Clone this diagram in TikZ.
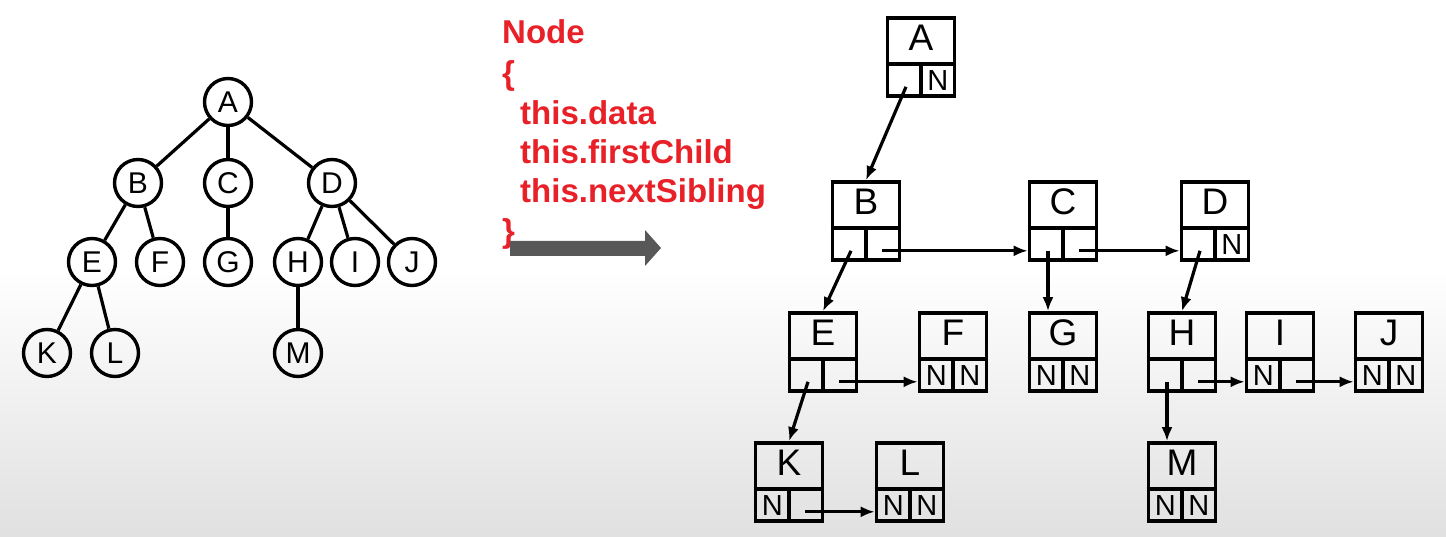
\documentclass[tikz,border=0pt]{standalone}
\usepackage{fontspec}
\setmainfont{Liberation Sans}
\usetikzlibrary{arrows.meta}
\definecolor{codered}{RGB}{232,32,40}
\definecolor{arrowgray}{RGB}{88,88,88}
\tikzset{circ/.style={circle,draw,line width=3.4pt,minimum size=47pt,inner sep=0pt,font=\fontsize{30}{30}\selectfont}}
\tikzset{lbox/.style={rectangle,draw,line width=3.6pt,minimum width=67pt,minimum height=78pt,inner sep=0pt}}
\tikzset{big/.style={inner sep=0pt,font=\fontsize{37}{37}\selectfont}}
\tikzset{small/.style={inner sep=0pt,font=\fontsize{29}{29}\selectfont}}
\tikzset{code/.style={anchor=base west,inner sep=0pt,text=codered,font=\fontsize{33}{33}\selectfont\bfseries}}
\tikzset{edge/.style={line width=3.2pt}}
\tikzset{bar/.style={line width=3.6pt}}
\tikzset{ptr/.style={line width=3.2pt,-{Latex[length=14pt,width=11pt]}}}

% list box: name, centre, letter, left cell, right cell
\newcommand{\lnode}[5]{%
  \node[lbox] (#1) at (#2) {};
  \draw[bar] ([yshift=34pt]#1.south west) -- ([yshift=34pt]#1.south east);
  \draw[bar] ([yshift=34pt]#1.south) -- (#1.south);
  \node[big] (#1-d) at ([yshift=-22pt]#1.north) {#3};
  \node[small] (#1-l) at ([xshift=-16.75pt,yshift=17pt]#1.south) {#4};
  \node[small] (#1-r) at ([xshift=16.75pt,yshift=17pt]#1.south) {#5};
  \coordinate (#1-f) at ([xshift=-15pt,yshift=11pt]#1.south);
  \coordinate (#1-n) at ([xshift=16pt,yshift=11pt]#1.south);
}

\begin{document}
\begin{tikzpicture}[x=1pt,y=-1pt]
  \useasboundingbox (0,0) rectangle (1446,537);
  \fill[white] (0,0) rectangle (1446,270);
  \shade[top color=white,bottom color=black!12] (0,270) rectangle (1446,537);

  % the tree
  \node[circ] (A) at (228,102) {A};
  \node[circ] (B) at (138,183) {B};
  \node[circ] (C) at (228,183) {C};
  \node[circ] (D) at (332,183) {D};
  \node[circ] (E) at (92,262) {E};
  \node[circ] (F) at (160,262) {F};
  \node[circ] (G) at (228,262) {G};
  \node[circ] (H) at (298,262) {H};
  \node[circ] (I) at (355,262) {I};
  \node[circ] (J) at (412,262) {J};
  \node[circ] (K) at (47,353) {K};
  \node[circ] (L) at (115,353) {L};
  \node[circ] (M) at (298,353) {M};
    \draw[edge] (A) -- (B);
    \draw[edge] (A) -- (C);
    \draw[edge] (A) -- (D);
    \draw[edge] (B) -- (E);
    \draw[edge] (B) -- (F);
    \draw[edge] (C) -- (G);
    \draw[edge] (D) -- (H);
    \draw[edge] (D) -- (I);
    \draw[edge] (D) -- (J);
    \draw[edge] (E) -- (K);
    \draw[edge] (E) -- (L);
    \draw[edge] (H) -- (M);

  % the code
  \node[code] (c1) at (502,44) {Node};
  \node[code] (c2) at (502,85) {\{};
  \node[code] (c3) at (520,125) {this.data};
  \node[code] (c4) at (520,164) {this.firstChild};
  \node[code] (c5) at (520,203) {this.nextSibling};
  \node[code] (c6) at (502,243) {\}};
  \fill[arrowgray] (510,241) -- (645,241) -- (645,230) -- (661,248)
    -- (645,266) -- (645,256) -- (510,256) -- cycle;

  % first child / next sibling
  \lnode{lA}{921,57}{A}{}{N}
  \lnode{lB}{866,221}{B}{}{}
  \lnode{lC}{1063,221}{C}{}{}
  \lnode{lD}{1215,221}{D}{}{N}
  \lnode{lE}{823,352}{E}{}{}
  \lnode{lF}{953,352}{F}{N}{N}
  \lnode{lG}{1063,352}{G}{N}{N}
  \lnode{lH}{1182,352}{H}{}{}
  \lnode{lI}{1280,352}{I}{N}{}
  \lnode{lJ}{1389,352}{J}{N}{N}
  \lnode{lK}{789,482}{K}{N}{}
  \lnode{lL}{910,482}{L}{N}{N}
  \lnode{lM}{1182,482}{M}{N}{N}
    \draw[ptr] (lA-f) -- (lB.north);
    \draw[ptr] (lB-f) -- (lE.north);
    \draw[ptr] (lB-n) -- (lB-n -| lC.west);
    \draw[ptr] (lC-f) -- (lC-f |- lG.north);
    \draw[ptr] (lC-n) -- (lC-n -| lD.west);
    \draw[ptr] (lD-f) -- (lH.north);
    \draw[ptr] (lE-f) -- (lK.north);
    \draw[ptr] (lE-n) -- (lE-n -| lF.west);
    \draw[ptr] (lH-f) -- (lH-f |- lM.north);
    \draw[ptr] (lH-n) -- (lH-n -| lI.west);
    \draw[ptr] (lI-n) -- (lI-n -| lJ.west);
    \draw[ptr] (lK-n) -- (lK-n -| lL.west);
\end{tikzpicture}
\end{document}
